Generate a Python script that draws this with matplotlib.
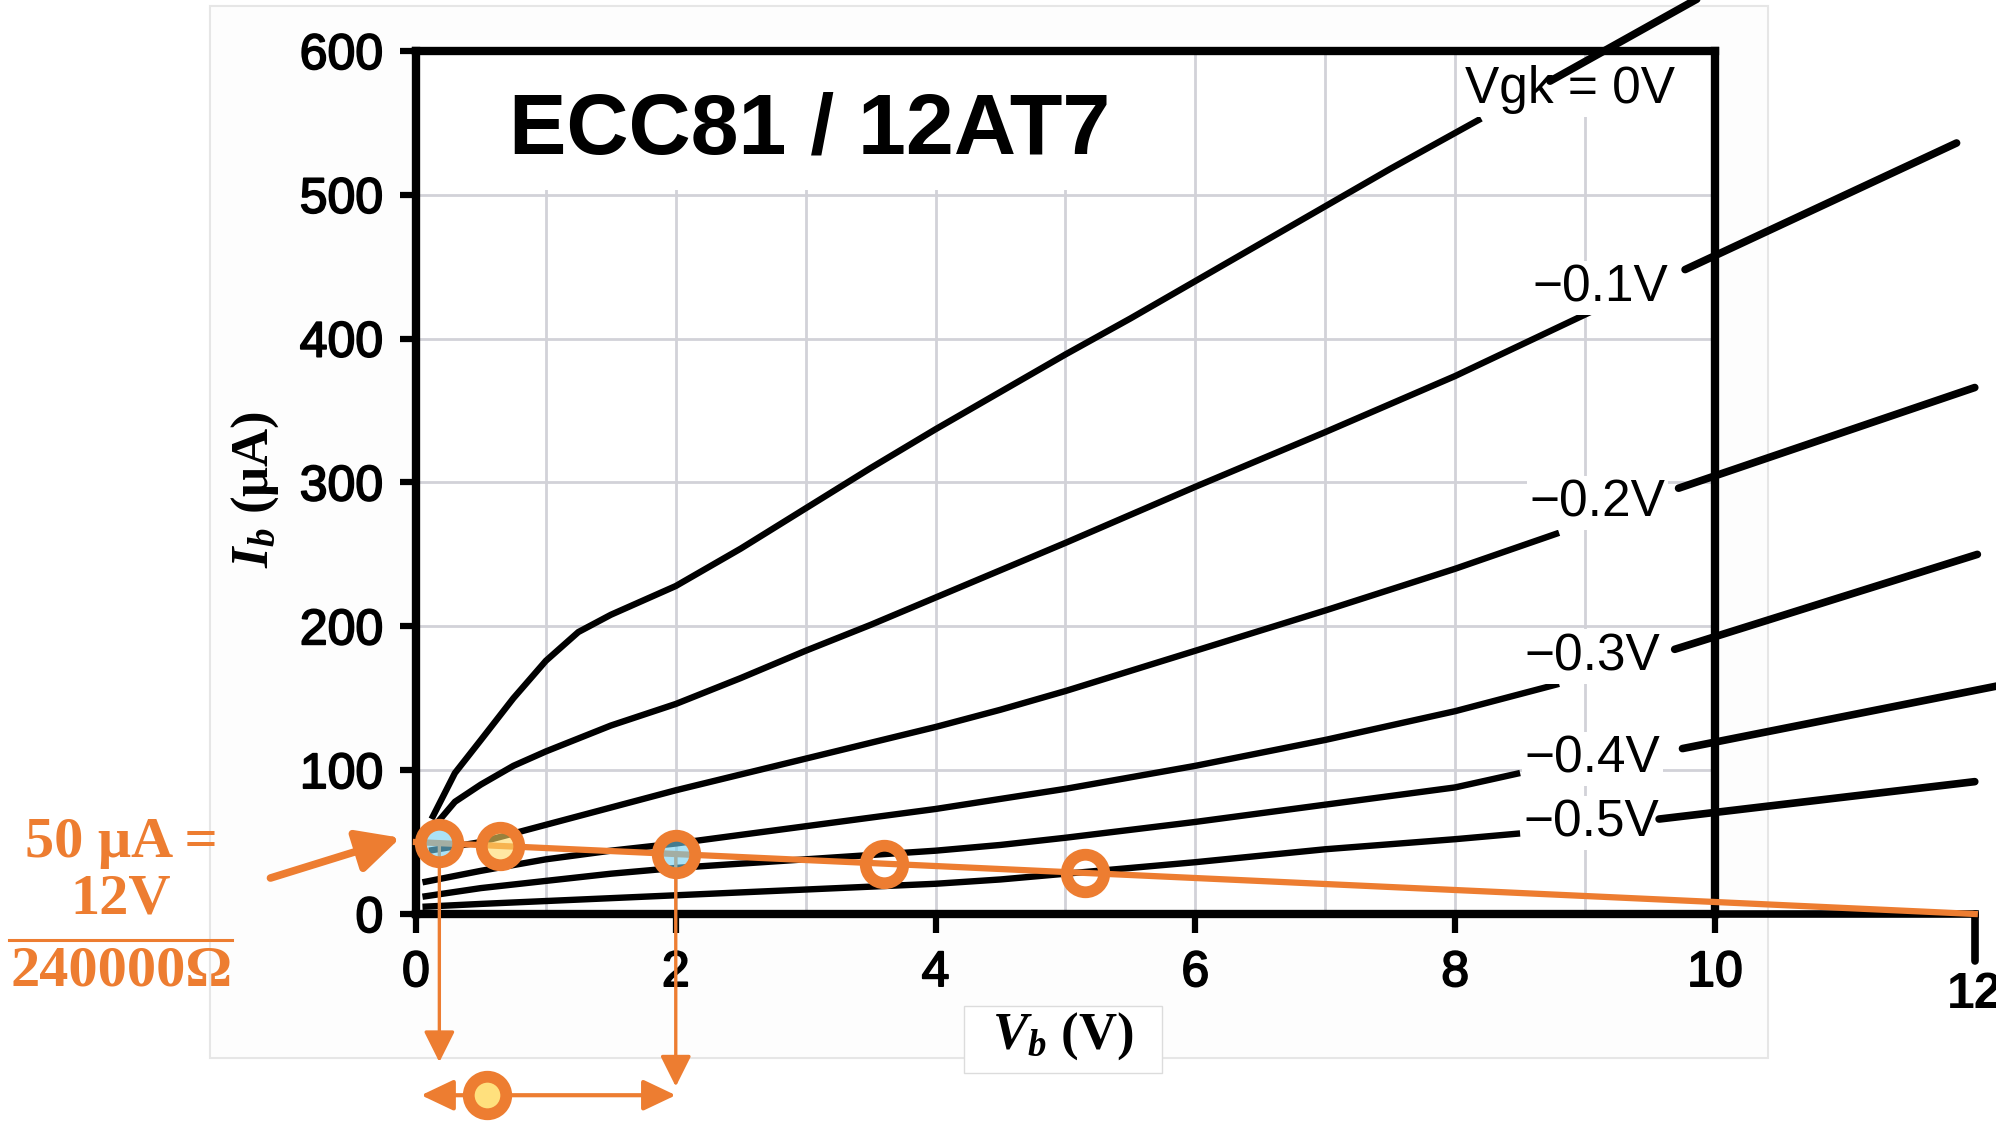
import matplotlib
matplotlib.use("Agg")
import matplotlib.pyplot as plt
import matplotlib.patheffects as pe
from matplotlib.patches import Rectangle

plt.rcParams["font.family"] = ["Liberation Sans", "DejaVu Sans"]
plt.rcParams["mathtext.fontset"] = "custom"
plt.rcParams["mathtext.it"] = "Liberation Serif:bold:italic"
plt.rcParams["mathtext.rm"] = "Liberation Serif:bold"
plt.rcParams["mathtext.bf"] = "Liberation Serif:bold"

ORANGE = "#ED7D31"
BLUE_FILL = (0.45, 0.81, 0.94, 0.6)
GOLD_FILL = (1.0, 0.85, 0.40, 0.6)

# ECC81 / 12AT7 plate curves, Vb in volts, Ib in uA
vb_g0 = [0.12, 0.3, 0.5, 0.75, 1.0, 1.25, 1.5, 1.75, 2.0, 2.5, 3.0, 3.5, 4.0, 4.5,
         5.0, 5.5, 6.0, 6.5, 7.0, 7.5, 8.0, 8.2]
ib_g0 = [66, 98, 121, 150, 176, 196, 208, 218, 228, 254, 282, 310, 337, 363,
         389, 414, 440, 466, 492, 518, 543, 553]
vb_g1 = [0.15, 0.3, 0.5, 0.75, 1.0, 1.5, 2.0, 2.5, 3.0, 3.5, 4.0, 4.5, 5.0, 6.0,
         7.0, 8.0, 9.1]
ib_g1 = [62, 78, 90, 103, 113, 131, 146, 164, 183, 201, 220, 239, 258, 297,
         335, 374, 421]
vb_g2 = [0.1, 0.5, 1.0, 1.5, 2.0, 2.5, 3.0, 3.5, 4.0, 4.5, 5.0, 6.0, 7.0, 8.0, 8.8]
ib_g2 = [44, 50, 62, 74, 86, 97, 108, 119, 130, 142, 155, 183, 211, 240, 265]
vb_g3 = [0.05, 0.5, 1.0, 1.5, 2.0, 2.5, 3.0, 3.5, 4.0, 4.5, 5.0, 6.0, 7.0, 8.0, 8.8]
ib_g3 = [22, 30, 38, 44, 49, 55, 61, 67, 73, 80, 87, 103, 121, 141, 160]
vb_g4 = [0.05, 0.5, 1.0, 1.5, 2.0, 2.5, 3.0, 3.5, 4.0, 4.5, 5.0, 6.0, 7.0, 8.0, 8.5]
ib_g4 = [12, 18, 23, 28, 32, 35, 38, 41, 44, 48, 53, 64, 76, 88, 98]
vb_g5 = [0.05, 0.5, 1.0, 1.5, 2.0, 3.0, 4.0, 4.5, 5.0, 5.5, 6.0, 7.0, 8.0, 8.5]
ib_g5 = [5, 7, 9, 11, 13, 17, 21, 24, 28, 32, 36, 45, 52, 56]

curve_vb = [vb_g0, vb_g1, vb_g2, vb_g3, vb_g4, vb_g5]
curve_ib = [ib_g0, ib_g1, ib_g2, ib_g3, ib_g4, ib_g5]
curve_names = ["Vgk = 0V", "\u22120.1V", "\u22120.2V", "\u22120.3V", "\u22120.4V", "\u22120.5V"]
name_x = [9.69, 9.64, 9.62, 9.58, 9.58, 9.57]
name_y = [573, 435, 286, 179, 108, 63]

# hand-drawn extensions of each curve past the plot edge
ext_x0 = [8.73, 9.77, 9.72, 9.69, 9.75, 9.57]
ext_y0 = [579, 448, 296, 184, 115, 66]
ext_x1 = [9.86, 11.86, 12.0, 12.02, 12.2, 12.0]
ext_y1 = [636, 536, 366, 250, 159, 92]

# load line: 12 V supply through 240 kOhm
vbb = 12
r_load = 240000
ib_short = vbb / r_load * 1e6

op_vb = [0.18, 0.65, 2.0, 3.6, 5.15]
op_ib = [49.3, 47.3, 41.7, 35.0, 28.5]
op_fill = [BLUE_FILL, GOLD_FILL, BLUE_FILL, "none", "none"]

fig = plt.figure(figsize=(19.96, 11.22), dpi=100)
fig.add_artist(Rectangle((0.105, 0.057), 0.7806, 0.9376, transform=fig.transFigure,
                         facecolor="#fdfdfd", edgecolor="#e6e6e6", lw=1.5, zorder=-1))
ax = fig.add_axes([0.2084, 0.1854, 0.6508, 0.7692])

ax.set_xlim(0, 10)
ax.set_ylim(0, 600)
ax.set_xticks(range(0, 11, 2))
ax.set_xticks(range(1, 10, 2), minor=True)
ax.set_yticks(range(0, 601, 100))
ax.grid(which="both", color="#d2d2d8", lw=2, zorder=0.5)
ax.set_axisbelow(True)
ax.tick_params(axis="x", which="major", labelsize=36, width=4.5, length=14, pad=12)
ax.tick_params(axis="y", which="major", labelsize=36, width=4.5, length=11.5, pad=12)
ax.tick_params(which="minor", length=0)
for lbl in ax.get_xticklabels() + ax.get_yticklabels():
    lbl.set_path_effects([pe.withStroke(linewidth=1.3, foreground="black")])
for sp in ax.spines.values():
    sp.set_linewidth(6)

# title box hides the grid behind it
ax.add_patch(Rectangle((0, 503), 5.6, 97, facecolor="white", edgecolor="none", zorder=1))
ax.text(0.72, 544, "ECC81 / 12AT7", fontsize=62, fontweight="bold",
        ha="left", va="center", zorder=2)

for vb, ib in zip(curve_vb, curve_ib):
    ax.plot(vb, ib, color="black", lw=4.6, zorder=3, solid_capstyle="butt",
            solid_joinstyle="round")

for name, x, y in zip(curve_names, name_x, name_y):
    ax.text(x, y, name, fontsize=37, ha="right", va="center", zorder=3.5,
            bbox=dict(facecolor="white", edgecolor="none", pad=2))

for x0, y0, x1, y1 in zip(ext_x0, ext_y0, ext_x1, ext_y1):
    ax.plot([x0, x1], [y0, y1], color="black", lw=5.5, clip_on=False,
            solid_capstyle="round", zorder=4)

# axis stretched out to the supply voltage
ax.plot([10, vbb], [0, 0], color="black", lw=5.5, clip_on=False, zorder=4)
ax.plot([vbb, vbb], [0, -33], color="black", lw=5.5, clip_on=False,
        solid_capstyle="round", zorder=4)
ax.text(vbb, -56, "12", fontsize=36, fontweight="bold", ha="center", va="center")

ax.plot([0, vbb], [ib_short, 0], color=ORANGE, lw=4.5, clip_on=False, zorder=5)
for vb, ib, fc in zip(op_vb, op_ib, op_fill):
    ax.plot(vb, ib, "o", ms=27, mfc=fc, mec=ORANGE, mew=8.5, clip_on=False, zorder=6)

# output swing markers below the axis
arrow_kw = dict(color=ORANGE, shrinkA=0, shrinkB=0)
ax.annotate("", xy=(op_vb[0], -103), xytext=(op_vb[0], op_ib[0]), annotation_clip=False,
            arrowprops=dict(arrowstyle="-|>,head_length=1.9,head_width=0.95",
                            mutation_scale=10, lw=2.4, **arrow_kw), zorder=5)
ax.annotate("", xy=(op_vb[2], -120), xytext=(op_vb[2], op_ib[2]), annotation_clip=False,
            arrowprops=dict(arrowstyle="-|>,head_length=1.9,head_width=0.95",
                            mutation_scale=10, lw=2.4, **arrow_kw), zorder=5)
ax.annotate("", xy=(0.04, -126), xytext=(op_vb[2], -126), annotation_clip=False,
            arrowprops=dict(arrowstyle="<|-|>,head_length=2.0,head_width=0.95",
                            mutation_scale=10, lw=3, **arrow_kw), zorder=5)
ax.plot(0.55, -126, "o", ms=27, mfc="#FFE07D", mec=ORANGE, mew=8.5,
        clip_on=False, zorder=7)

# short-circuit current note with pointer to the load line
note_kw = dict(color=ORANGE, fontsize=42, fontfamily="Liberation Serif",
               fontweight="bold", ha="center", va="center")
ax.text(-2.27, 49, "50 \u03bcA =", **note_kw)
ax.text(-2.27, 10, "12V", **note_kw)
ax.plot([-3.13, -1.42], [-18, -18], color=ORANGE, lw=2.2, clip_on=False)
ax.text(-2.27, -40, "240000\u03a9", **note_kw)
ax.annotate("", xy=(-0.12, 53), xytext=(-1.12, 25), annotation_clip=False,
            arrowprops=dict(arrowstyle="-|>,head_length=2.6,head_width=1.3",
                            mutation_scale=10, lw=5.5, **arrow_kw))

# axis labels
ax.add_patch(Rectangle((4.22, -110.6), 1.52, 46.6, facecolor="white",
                       edgecolor="#dcdcdc", lw=1, clip_on=False, zorder=1))
ax.text(4.98, -85, r"$V_b\ \mathrm{(V)}$", fontsize=38, ha="center", va="center", zorder=2)
ax.text(-1.24, 295, r"$I_b\ \mathrm{(\mu A)}$", fontsize=38, rotation=90,
        ha="center", va="center")

fig.savefig("out.png", dpi=100)
